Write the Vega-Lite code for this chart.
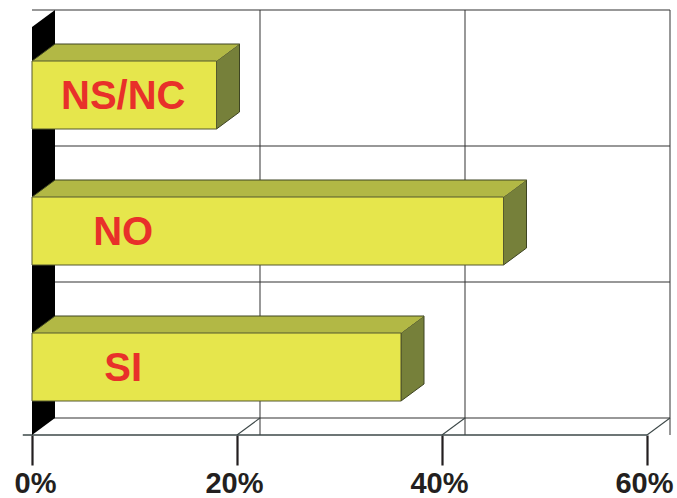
{
  "$schema": "https://vega.github.io/schema/vega-lite/v6.json",
  "width": 615,
  "height": 408,
  "autosize": "none",
  "padding": {"left": 32, "top": 27, "right": 30, "bottom": 63},
  "background": "white",
  "view": {"stroke": null},
  "config": {
    "font": "Liberation Sans",
    "axisX": {
      "domain": false,
      "grid": false,
      "tickSize": 30,
      "tickWidth": 2.2,
      "tickColor": "#231f20",
      "labelFont": "Liberation Sans",
      "labelFontSize": 29,
      "labelFontWeight": "bold",
      "labelColor": "#231f20",
      "labelPadding": 4,
      "labelFlush": false,
      "labelOverlap": false,
      "labelExpr": "datum.value + '%'"
    }
  },
  "datasets": {
    "answers": [
      {"answer": "NS/NC", "pct": 18},
      {"answer": "NO", "pct": 46},
      {"answer": "SI", "pct": 36}
    ],
    "ticks": [{"tick": 0}, {"tick": 20}, {"tick": 40}, {"tick": 60}],
    "wall": [{"part": "wall"}]
  },
  "data": {"name": "answers"},
  "layer": [
    {
      "data": {"name": "ticks"},
      "transform": [{"filter": "datum.tick > 0"}],
      "mark": {"type": "rule", "stroke": "#444444", "strokeWidth": 1.1, "xOffset": 23, "yOffset": -17, "y2Offset": -17},
      "encoding": {
        "x": {"field": "tick", "type": "quantitative", "title": null, "scale": {"domain": [0, 60], "nice": false, "zero": true}, "axis": {"values": [0, 20, 40, 60], "labelOffset": {"condition": {"test": "datum.value === 0", "value": 3}, "value": -3}}}
      }
    },
    {
      "data": {"name": "wall"},
      "mark": {"type": "rule", "stroke": "#333333", "strokeWidth": 1.2, "xOffset": 23, "x2Offset": 23, "yOffset": -85},
      "encoding": {
        "y": {"datum": "NS/NC", "type": "nominal", "scale": {"domain": ["NS/NC", "NO", "SI"], "paddingInner": 0.5, "paddingOuter": 0.25}, "axis": null}
      }
    },
    {
      "mark": {"type": "rule", "stroke": "#333333", "strokeWidth": 1.2, "xOffset": 23, "x2Offset": 23, "yOffset": 51},
      "encoding": {
        "y": {"field": "answer", "type": "nominal", "sort": null, "scale": {"domain": ["NS/NC", "NO", "SI"], "paddingInner": 0.5, "paddingOuter": 0.25}, "axis": null}
      }
    },
    {
      "data": {"name": "wall"},
      "mark": {"type": "rule", "stroke": "#3d4848", "strokeWidth": 1.3, "yOffset": 68},
      "encoding": {
        "x": {"datum": 60, "type": "quantitative", "title": null, "scale": {"domain": [0, 60], "nice": false, "zero": true}, "axis": {"values": [0, 20, 40, 60], "labelOffset": {"condition": {"test": "datum.value === 0", "value": 3}, "value": -3}}},
        "x2": {"datum": -0.9},
        "y": {"datum": "SI", "type": "nominal", "scale": {"domain": ["NS/NC", "NO", "SI"], "paddingInner": 0.5, "paddingOuter": 0.25}, "axis": null}
      }
    },
    {
      "data": {"name": "ticks"},
      "transform": [{"filter": "datum.tick > 0"}],
      "mark": {"type": "rule", "stroke": "#3d4848", "strokeWidth": 1.1, "x2Offset": 23, "yOffset": 68, "y2Offset": 51},
      "encoding": {
        "x": {"field": "tick", "type": "quantitative", "title": null, "scale": {"domain": [0, 60], "nice": false, "zero": true}, "axis": {"values": [0, 20, 40, 60], "labelOffset": {"condition": {"test": "datum.value === 0", "value": 3}, "value": -3}}},
        "x2": {"field": "tick"},
        "y": {"datum": "SI", "type": "nominal", "scale": {"domain": ["NS/NC", "NO", "SI"], "paddingInner": 0.5, "paddingOuter": 0.25}, "axis": null},
        "y2": {"datum": "SI"}
      }
    },
    {
      "data": {"name": "wall"},
      "mark": {"type": "point", "filled": true, "fill": "#000000", "strokeWidth": 0, "opacity": 1, "size": 4, "shape": "M0,-204L23,-221L23,187L0,204Z"},
      "encoding": {
        "x": {"datum": 0, "type": "quantitative", "title": null, "scale": {"domain": [0, 60], "nice": false, "zero": true}, "axis": {"values": [0, 20, 40, 60], "labelOffset": {"condition": {"test": "datum.value === 0", "value": 3}, "value": -3}}},
        "y": {"datum": "NO", "type": "nominal", "scale": {"domain": ["NS/NC", "NO", "SI"], "paddingInner": 0.5, "paddingOuter": 0.25}, "axis": null}
      }
    },
    {
      "mark": {"type": "point", "filled": true, "fill": "#76803a", "stroke": "#3e4422", "strokeWidth": 1, "opacity": 1, "size": 4, "shape": "M0,-34L23,-51L23,17L0,34Z"},
      "encoding": {
        "x": {"field": "pct", "type": "quantitative", "title": null, "scale": {"domain": [0, 60], "nice": false, "zero": true}, "axis": {"values": [0, 20, 40, 60], "labelOffset": {"condition": {"test": "datum.value === 0", "value": 3}, "value": -3}}},
        "y": {"field": "answer", "type": "nominal", "sort": null, "scale": {"domain": ["NS/NC", "NO", "SI"], "paddingInner": 0.5, "paddingOuter": 0.25}, "axis": null}
      }
    },
    {
      "mark": {"type": "bar", "fill": "#b2b845", "strokeWidth": 0, "height": 17, "x2Offset": 23, "yOffset": -42.5},
      "encoding": {
        "x": {"field": "pct", "type": "quantitative", "stack": null, "title": null, "scale": {"domain": [0, 60], "nice": false, "zero": true}, "axis": {"values": [0, 20, 40, 60], "labelOffset": {"condition": {"test": "datum.value === 0", "value": 3}, "value": -3}}},
        "x2": {"datum": 0},
        "y": {"field": "answer", "type": "nominal", "sort": null, "scale": {"domain": ["NS/NC", "NO", "SI"], "paddingInner": 0.5, "paddingOuter": 0.25}, "axis": null}
      }
    },
    {
      "mark": {"type": "point", "filled": true, "fill": "#b2b845", "strokeWidth": 0, "opacity": 1, "size": 4, "shape": "M0,-34L23,-51L25,-51L25,-34Z"},
      "encoding": {
        "x": {"datum": 0, "type": "quantitative", "title": null, "scale": {"domain": [0, 60], "nice": false, "zero": true}, "axis": {"values": [0, 20, 40, 60], "labelOffset": {"condition": {"test": "datum.value === 0", "value": 3}, "value": -3}}},
        "y": {"field": "answer", "type": "nominal", "sort": null, "scale": {"domain": ["NS/NC", "NO", "SI"], "paddingInner": 0.5, "paddingOuter": 0.25}, "axis": null}
      }
    },
    {
      "mark": {"type": "point", "filled": true, "fill": "#b2b845", "strokeWidth": 0, "opacity": 1, "size": 4, "shape": "M-2,-34L-2,-51L23,-51L0,-34Z"},
      "encoding": {
        "x": {"field": "pct", "type": "quantitative", "title": null, "scale": {"domain": [0, 60], "nice": false, "zero": true}, "axis": {"values": [0, 20, 40, 60], "labelOffset": {"condition": {"test": "datum.value === 0", "value": 3}, "value": -3}}},
        "y": {"field": "answer", "type": "nominal", "sort": null, "scale": {"domain": ["NS/NC", "NO", "SI"], "paddingInner": 0.5, "paddingOuter": 0.25}, "axis": null}
      }
    },
    {
      "mark": {"type": "rule", "stroke": "#3e4422", "strokeWidth": 1, "xOffset": 23, "x2Offset": 23, "yOffset": -51},
      "encoding": {
        "x": {"field": "pct", "type": "quantitative", "title": null, "scale": {"domain": [0, 60], "nice": false, "zero": true}, "axis": {"values": [0, 20, 40, 60], "labelOffset": {"condition": {"test": "datum.value === 0", "value": 3}, "value": -3}}},
        "x2": {"datum": 0},
        "y": {"field": "answer", "type": "nominal", "sort": null, "scale": {"domain": ["NS/NC", "NO", "SI"], "paddingInner": 0.5, "paddingOuter": 0.25}, "axis": null}
      }
    },
    {
      "mark": {"type": "rule", "stroke": "#3e4422", "strokeWidth": 1, "x2Offset": 23, "yOffset": -34, "y2Offset": -51},
      "encoding": {
        "x": {"datum": 0, "type": "quantitative", "title": null, "scale": {"domain": [0, 60], "nice": false, "zero": true}, "axis": {"values": [0, 20, 40, 60], "labelOffset": {"condition": {"test": "datum.value === 0", "value": 3}, "value": -3}}},
        "x2": {"datum": 0},
        "y": {"field": "answer", "type": "nominal", "sort": null, "scale": {"domain": ["NS/NC", "NO", "SI"], "paddingInner": 0.5, "paddingOuter": 0.25}, "axis": null},
        "y2": {"field": "answer"}
      }
    },
    {
      "mark": {"type": "bar", "fill": "#e6e64c", "stroke": "#55592e", "strokeWidth": 1},
      "encoding": {
        "x": {"field": "pct", "type": "quantitative", "stack": null, "title": null, "scale": {"domain": [0, 60], "nice": false, "zero": true}, "axis": {"values": [0, 20, 40, 60], "labelOffset": {"condition": {"test": "datum.value === 0", "value": 3}, "value": -3}}},
        "x2": {"datum": 0},
        "y": {"field": "answer", "type": "nominal", "sort": null, "scale": {"domain": ["NS/NC", "NO", "SI"], "paddingInner": 0.5, "paddingOuter": 0.25}, "axis": null}
      }
    },
    {
      "mark": {"type": "text", "font": "Liberation Sans", "fontSize": 40, "fontWeight": "bold", "fill": "#e8302a", "align": "center", "baseline": "middle", "dy": 2},
      "encoding": {
        "x": {"datum": 8.9, "type": "quantitative", "title": null, "scale": {"domain": [0, 60], "nice": false, "zero": true}, "axis": {"values": [0, 20, 40, 60], "labelOffset": {"condition": {"test": "datum.value === 0", "value": 3}, "value": -3}}},
        "y": {"field": "answer", "type": "nominal", "sort": null, "scale": {"domain": ["NS/NC", "NO", "SI"], "paddingInner": 0.5, "paddingOuter": 0.25}, "axis": null},
        "text": {"field": "answer"}
      }
    }
  ]
}
